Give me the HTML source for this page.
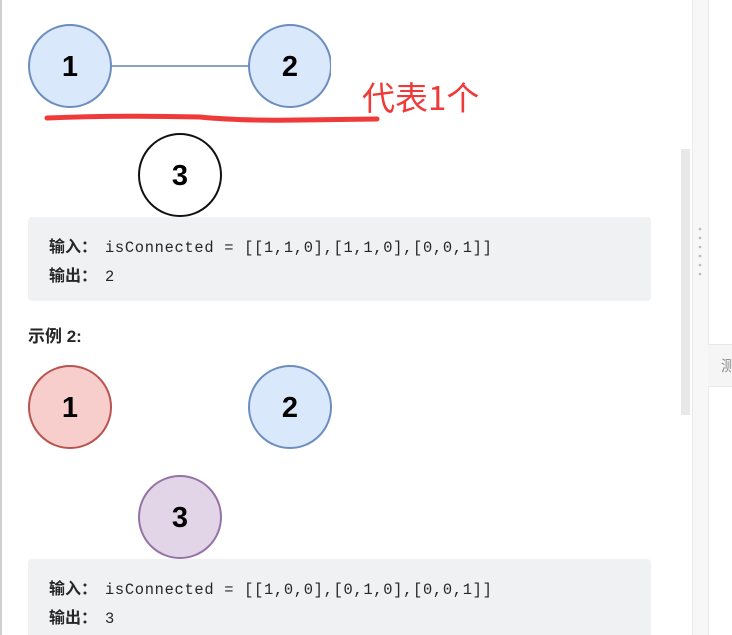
<!DOCTYPE html>
<html><head><meta charset="utf-8"><style>
html,body{margin:0;padding:0;width:732px;height:635px;overflow:hidden;background:#fff;position:relative;font-family:"Liberation Sans","Noto Sans CJK SC",sans-serif}
.abs{position:absolute}
.code{position:absolute;left:28px;width:623px;background:#f0f1f3;border-radius:4px}
.code div{position:absolute;left:21px;font-family:"Liberation Mono","Noto Sans CJK SC",monospace;font-size:15.4px;letter-spacing:0.7px;color:#262626;white-space:pre}
.cj{display:inline-block;width:56px;letter-spacing:0;font-family:"Noto Sans CJK SC",sans-serif;font-weight:bold;font-size:16px}
</style></head><body>
<div class="abs" style="left:0;top:0;width:2px;height:635px;background:#d0d0d0"></div>
<div class="abs" style="left:681px;top:149px;width:9px;height:266px;background:#e8e8e8"></div>
<div class="abs" style="left:692px;top:0;width:15px;height:635px;background:#f7f7f7;border-left:1px solid #ebebeb;border-right:1px solid #ebebeb"></div>
<div class="abs" style="left:708px;top:344px;width:24px;height:41px;background:#f5f5f5;border-top:1px solid #e8e8e8;border-bottom:1px solid #e8e8e8"></div>
<div class="abs" style="left:721px;top:355px;font-size:15px;color:#888;font-family:'Noto Sans CJK SC',sans-serif">测</div>
<svg class="abs" style="left:698px;top:226px" width="6" height="50"><g fill="#bbb"><circle cx="2" cy="3" r="1.3"/><circle cx="2" cy="12" r="1.3"/><circle cx="2" cy="21" r="1.3"/><circle cx="2" cy="30" r="1.3"/><circle cx="2" cy="39" r="1.3"/><circle cx="2" cy="48" r="1.3"/></g></svg>
<svg class="abs" style="left:0;top:0" width="680" height="635">
<line x1="111" y1="66" x2="249" y2="66" stroke="#8aa3c4" stroke-width="2"/>
<g font-family="Liberation Sans,sans-serif" font-weight="bold" font-size="29" text-anchor="middle">
<circle cx="70" cy="66" r="41" fill="#dae8fc" stroke="#6c8ebf" stroke-width="2"/><text x="70" y="76">1</text>
<circle cx="290" cy="66" r="41" fill="#dae8fc" stroke="#6c8ebf" stroke-width="2"/><text x="290" y="76">2</text>
<circle cx="180" cy="175" r="41" fill="#fff" stroke="#111" stroke-width="2"/><text x="180" y="185">3</text>
<circle cx="70" cy="407" r="41" fill="#f8cecc" stroke="#b85450" stroke-width="2"/><text x="70" y="417">1</text>
<circle cx="290" cy="407" r="41" fill="#dae8fc" stroke="#6c8ebf" stroke-width="2"/><text x="290" y="417">2</text>
<circle cx="180" cy="517" r="41" fill="#e1d5e7" stroke="#9673a6" stroke-width="2"/><text x="180" y="527">3</text>
</g>
<rect x="331" y="20" width="10" height="100" fill="#fff"/>
<path d="M47 118 Q120 115 200 117 Q240 121 300 120 L377 119" stroke="#f03a3a" stroke-width="5" fill="none" stroke-linecap="round"/>
</svg>
<div class="abs" style="left:362px;top:75px;font-size:33px;color:#f03a3a;font-family:'Noto Sans CJK SC',sans-serif;line-height:42px">代表1个</div>
<div class="code" style="top:217px;height:84px">
<div style="top:16px"><span class="cj">输入：</span>isConnected = [[1,1,0],[1,1,0],[0,0,1]]</div>
<div style="top:45px"><span class="cj">输出：</span>2</div>
</div>
<div class="abs" style="left:28px;top:322px;font-weight:bold;font-size:17px;color:#262626">示例 2:</div>
<div class="code" style="top:559px;height:80px">
<div style="top:16px"><span class="cj">输入：</span>isConnected = [[1,0,0],[0,1,0],[0,0,1]]</div>
<div style="top:45px"><span class="cj">输出：</span>3</div>
</div>
</body></html>
